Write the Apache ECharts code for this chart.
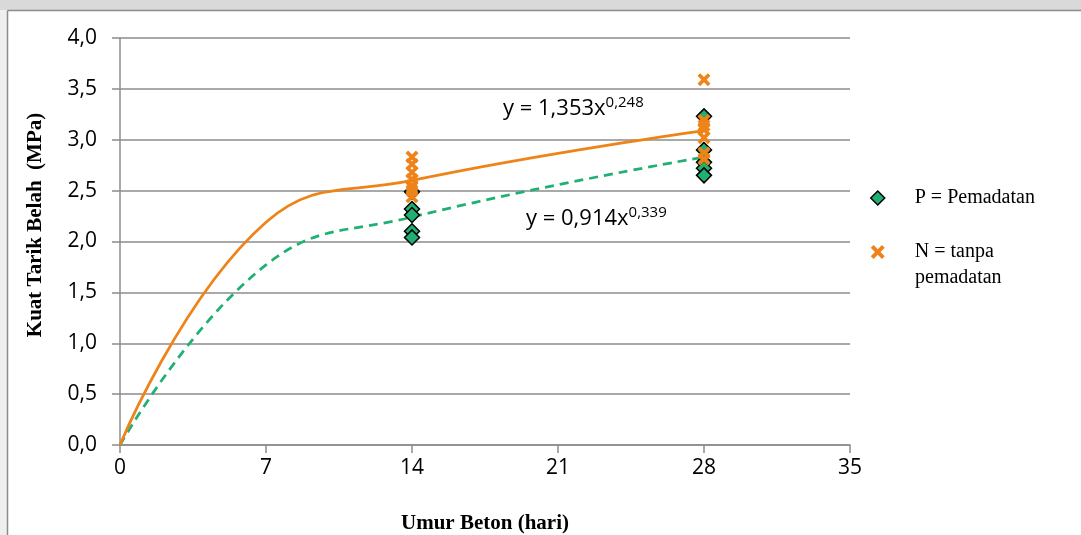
<!DOCTYPE html>
<html>
<head>
<meta charset="utf-8">
<script src="https://cdn.jsdelivr.net/npm/echarts@6/dist/echarts.min.js"></script>
<style>
html,body{margin:0;padding:0;background:#fff;}
#chart{width:1081px;height:535px;}
</style>
</head>
<body>
<div id="chart"></div>
<script>
// ---- data ----
const xTicks = [0, 7, 14, 21, 28, 35];
const yTicks = ['0,0','0,5','1,0','1,5','2,0','2,5','3,0','3,5','4,0'];

const ageP = [14, 14, 14, 14, 14, 28, 28, 28, 28, 28];
const valP = [2.49, 2.32, 2.26, 2.10, 2.04, 3.23, 2.90, 2.78, 2.72, 2.65];

const ageN = [14, 14, 14, 14, 14, 14, 14, 28, 28, 28, 28, 28, 28, 28];
const valN = [2.83, 2.76, 2.68, 2.61, 2.55, 2.50, 2.44, 3.59, 3.19, 3.14, 3.10, 3.02, 2.87, 2.81];

const trendAge = [0, 7, 14, 28];
const trendP = [0, 1.77, 2.24, 2.83];
const trendN = [0, 2.19, 2.60, 3.09];

const eqN = ['y = 1,353x', '0,248'];
const eqP = ['y = 0,914x', '0,339'];

const nameP = 'P = Pemadatan';
const nameN = 'N = tanpa pemadatan';

// ---- styles ----
const ORANGE = '#EE8419';
const GREEN = '#21B073';
const GRID = '#8c8c8c';
const crossPath = 'path://M0,2 L2,0 L5,3 L8,0 L10,2 L7,5 L10,8 L8,10 L5,7 L2,10 L0,8 L3,5 Z';

const zip = (a, b) => a.map((v, i) => [v, b[i]]);

const chart = echarts.init(document.getElementById('chart'));
chart.setOption({
  animation: false,
  backgroundColor: '#ffffff',
  grid: { left: 120, right: 231, top: 38, bottom: 90, containLabel: false, outerBoundsMode: 'none' },
  xAxis: {
    type: 'value', min: 0, max: 35, interval: 7,
    axisLine: { show: true, lineStyle: { color: GRID, width: 1.5 } },
    axisTick: { show: true, length: 8, lineStyle: { color: GRID, width: 1.5 } },
    splitLine: { show: false },
    axisLabel: { color: '#000', fontFamily: 'Open Sans', fontSize: 21, margin: 13,
      formatter: v => String(v) },
    name: 'Umur Beton (hari)', nameLocation: 'middle', nameGap: 68,
    nameTextStyle: { color: '#000', fontFamily: 'Liberation Serif', fontWeight: 'bold', fontSize: 21 }
  },
  yAxis: {
    type: 'value', min: 0, max: 4, interval: 0.5,
    axisLine: { show: true, lineStyle: { color: GRID, width: 1.5 } },
    axisTick: { show: true, length: 8, lineStyle: { color: GRID, width: 1.5 } },
    splitLine: { show: true, lineStyle: { color: GRID, width: 1.5 } },
    axisLabel: { color: '#000', fontFamily: 'Open Sans', fontSize: 21, margin: 23,
      formatter: (v, i) => yTicks[Math.round(v / 0.5)] }
  },
  legend: {
    orient: 'vertical', left: 865, top: 183,
    itemWidth: 14, itemHeight: 14, itemGap: 34,
    data: [
      { name: nameP, icon: 'diamond', itemStyle: { color: GREEN, borderColor: '#000', borderWidth: 1.5 } },
      { name: nameN, icon: crossPath, itemStyle: { color: ORANGE } }
    ],
    formatter: n => n === nameN ? 'N = tanpa' : n,
    textStyle: { color: '#000', fontFamily: 'Liberation Serif', fontSize: 20, padding: [0, 0, 0, 25] }
  },
  graphic: [
    { type: 'rect', z: -10, shape: { x: 0, y: 0, width: 1081, height: 10 }, style: { fill: '#d9d9d9' } },
    { type: 'rect', z: -10, shape: { x: 0, y: 10, width: 7, height: 525 }, style: { fill: '#efefef' } },
    { type: 'line', z: -9, shape: { x1: 7.5, y1: 10.5, x2: 1081, y2: 10.5 }, style: { stroke: '#8c8c8c', lineWidth: 1.5 } },
    { type: 'line', z: -9, shape: { x1: 7.5, y1: 10.5, x2: 7.5, y2: 535 }, style: { stroke: '#8c8c8c', lineWidth: 1.5 } },
    { type: 'text', x: 36, y: 225, rotation: Math.PI / 2,
      style: { text: 'Kuat Tarik Belah  (MPa)', fill: '#000', font: 'bold 21px "Liberation Serif"',
        align: 'center', verticalAlign: 'middle' } },
    { type: 'text', x: 915, y: 278,
      style: { text: 'pemadatan', fill: '#000', font: '20px "Liberation Serif"', align: 'left', verticalAlign: 'middle' } },
    { type: 'text', x: 503, y: 109,
      style: { text: '{a|' + eqN[0] + '}{s|' + eqN[1] + '}', verticalAlign: 'middle',
        rich: { a: { fontFamily: 'Open Sans', fontSize: 22, fill: '#000' },
                s: { fontFamily: 'Open Sans', fontSize: 15, fill: '#000', padding: [0, 0, 13, 0] } } } },
    { type: 'text', x: 526, y: 219,
      style: { text: '{a|' + eqP[0] + '}{s|' + eqP[1] + '}', verticalAlign: 'middle',
        rich: { a: { fontFamily: 'Open Sans', fontSize: 22, fill: '#000' },
                s: { fontFamily: 'Open Sans', fontSize: 15, fill: '#000', padding: [0, 0, 13, 0] } } } }
  ],
  series: [
    { name: 'trendP', type: 'line', data: zip(trendAge, trendP), smooth: 0.45, symbol: 'none',
      lineStyle: { color: GREEN, width: 2.75, type: [9, 6] }, z: 2, silent: true },
    { name: 'trendN', type: 'line', data: zip(trendAge, trendN), smooth: 0.45, symbol: 'none',
      lineStyle: { color: ORANGE, width: 2.75 }, z: 2, silent: true },
    { name: nameP, type: 'scatter', data: zip(ageP, valP), symbol: 'diamond', symbolSize: 15,
      itemStyle: { color: GREEN, borderColor: '#000', borderWidth: 1.5, opacity: 1 }, z: 3 },
    { name: nameN, type: 'scatter', data: zip(ageN, valN), symbol: crossPath, symbolSize: 13,
      symbolKeepAspect: true, itemStyle: { color: ORANGE, opacity: 1 }, z: 4 }
  ]
});
</script>
</body>
</html>
